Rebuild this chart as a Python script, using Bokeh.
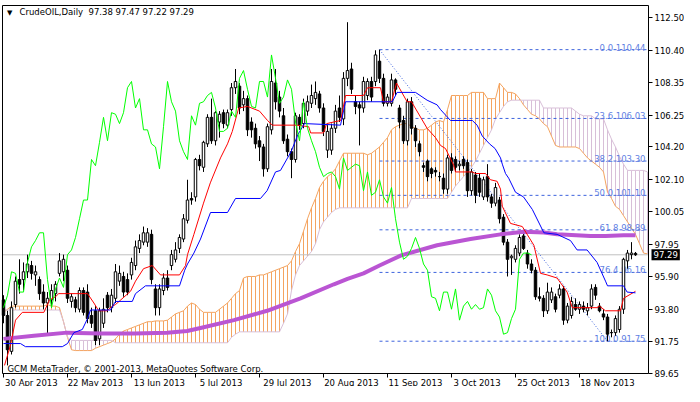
from bokeh.plotting import figure
from bokeh.models import (Range1d, LinearAxis, FixedTicker, Label,
                          ColumnDataSource, CustomJSTickFormatter, PrintfTickFormatter)
from bokeh.embed import file_html
from bokeh.resources import INLINE
from bokeh.core.properties import value

# ---------------- data ----------------
symbol_title = "CrudeOIL,Daily"
last_ohlc_text = "97.38 97.47 97.22 97.29"
copyright_text = "GCM MetaTrader, \u00a9 2001-2013, MetaQuotes Software Corp."

opens = [94.4, 93.4, 91.1, 94.1, 95.7, 95.7, 96.2, 96.6, 96.0, 95.7,
         94.9, 94.2, 94.4, 94.8, 96.1, 96.2, 96.3, 94.3, 94.4, 93.8,
         95.0, 94.9, 93.4, 93.7, 91.9, 92.9, 94.7, 93.9, 94.5, 95.6,
         95.9, 95.7, 96.0, 96.6, 97.7, 98.1, 98.1, 98.6, 95.1, 93.9,
         95.0, 95.8, 96.6, 97.0, 97.7, 98.3, 99.5, 100.9, 101.0, 103.4,
         102.9, 104.4, 106.1, 104.6, 105.8, 106.4, 105.6, 106.6, 108.0, 108.1,
         106.9, 107.3, 105.8, 105.4, 104.6, 104.2, 102.8, 105.3, 108.3, 107.4,
         106.2, 104.7, 103.9, 103.4, 106.1, 105.7, 106.5, 107.0, 107.3, 107.6,
         106.7, 104.0, 104.0, 105.4, 106.7, 106.0, 108.6, 109.2, 107.1, 106.9,
         106.7, 107.5, 108.4, 108.4, 109.7, 108.6, 107.0, 107.0, 108.5, 106.7,
         105.9, 104.6, 107.1, 105.4, 104.4, 103.0, 103.3, 102.8, 102.7, 102.3,
         102.2, 101.5, 103.5, 103.4, 103.0, 103.4, 103.2, 101.4, 102.4, 102.2,
         101.0, 102.3, 101.0, 100.6, 100.8, 99.7, 98.1, 97.1, 97.0, 97.4,
         98.5, 97.4, 96.7, 96.3, 94.6, 94.5, 93.7, 94.4, 94.6, 94.7,
         95.1, 93.1, 93.4, 94.1, 93.8, 94.0, 93.7, 94.0, 95.2, 94.0,
         93.5, 93.3, 92.3, 92.3, 92.5, 93.8, 96.9, 97.3, 97.38]
highs = [94.7, 93.7, 94.3, 95.9, 97.0, 96.8, 97.3, 96.9, 96.6, 95.9,
         95.4, 94.9, 95.4, 95.6, 97.4, 97.3, 96.6, 94.8, 94.6, 95.2,
         95.2, 95.4, 93.9, 94.0, 93.9, 94.5, 94.9, 95.1, 96.7, 96.6,
         96.2, 96.1, 97.1, 98.2, 98.6, 99.1, 99.0, 98.9, 95.4, 95.4,
         96.1, 96.3, 97.6, 98.1, 98.6, 99.9, 102.1, 101.3, 103.5, 103.7,
         104.6, 106.3, 107.3, 106.5, 106.5, 106.6, 106.6, 108.3, 109.2, 108.3,
         107.8, 107.5, 106.1, 105.7, 104.9, 104.4, 105.7, 109.2, 109.2, 107.8,
         106.7, 105.0, 104.1, 106.4, 106.3, 107.3, 107.5, 108.2, 108.4, 107.8,
         107.0, 105.6, 105.7, 106.9, 107.5, 109.0, 112.2, 109.6, 107.5, 107.1,
         108.7, 108.6, 108.7, 110.4, 110.44, 108.9, 107.6, 108.9, 108.6, 106.9,
         106.2, 107.3, 107.4, 105.6, 104.6, 103.2, 103.4, 102.9, 102.9, 102.6,
         102.5, 103.7, 103.8, 103.6, 103.3, 103.6, 103.4, 102.8, 102.6, 102.5,
         102.3, 103.1, 101.2, 101.9, 101.0, 99.9, 98.3, 97.3, 97.9, 98.6,
         98.8, 97.6, 97.0, 96.5, 95.2, 94.7, 95.5, 95.2, 94.8, 95.4,
         95.3, 94.2, 94.6, 94.5, 94.3, 94.3, 94.2, 95.4, 95.4, 94.2,
         93.8, 93.5, 92.5, 93.4, 94.0, 97.1, 97.6, 98.1, 97.47]
lows = [92.9, 90.2, 90.9, 93.9, 94.8, 95.0, 95.8, 95.7, 95.3, 94.4,
        93.8, 92.1, 93.9, 94.3, 95.9, 95.6, 94.2, 93.9, 93.6, 93.6,
        93.4, 92.9, 92.6, 91.5, 91.5, 92.6, 93.6, 93.6, 94.2, 95.3,
        94.6, 94.7, 95.7, 96.3, 97.4, 97.9, 97.8, 95.4, 93.4, 93.4,
        94.7, 95.0, 96.3, 96.8, 97.4, 98.1, 99.3, 100.5, 100.7, 102.7,
        102.6, 104.2, 104.4, 104.3, 104.8, 105.4, 105.4, 106.2, 107.6, 106.3,
        106.5, 104.9, 104.8, 104.1, 103.3, 102.3, 102.6, 105.0, 106.6, 106.1,
        104.4, 103.6, 102.2, 103.2, 105.3, 105.4, 106.2, 106.7, 106.9, 106.4,
        104.9, 103.5, 103.7, 105.1, 105.8, 105.6, 108.1, 107.6, 106.3, 104.3,
        106.4, 107.2, 107.1, 108.1, 108.3, 106.8, 106.8, 106.8, 107.5, 105.4,
        104.4, 104.3, 105.0, 104.2, 103.6, 102.6, 102.0, 102.2, 102.3, 102.0,
        101.2, 101.2, 102.5, 102.6, 102.7, 102.8, 101.0, 101.1, 100.6, 101.0,
        100.8, 100.7, 100.3, 100.4, 99.3, 97.9, 95.9, 96.0, 96.8, 97.2,
        97.6, 96.4, 96.1, 94.4, 94.3, 93.3, 93.5, 94.2, 93.6, 94.5,
        92.8, 92.9, 93.2, 93.7, 93.5, 93.6, 93.4, 93.8, 94.4, 93.6,
        93.1, 91.75, 92.0, 92.1, 92.3, 93.5, 96.4, 97.0, 97.22]
closes = [93.4, 91.2, 93.9, 95.6, 95.4, 96.2, 96.7, 96.1, 96.2, 94.8,
          94.2, 94.5, 95.0, 95.4, 96.9, 97.0, 94.5, 94.6, 93.9, 95.0,
          93.6, 93.2, 92.9, 91.8, 93.7, 93.8, 93.9, 94.7, 96.2, 96.1,
          94.9, 94.9, 96.8, 97.8, 98.2, 98.7, 98.7, 95.7, 93.9, 95.1,
          95.8, 95.2, 97.3, 97.6, 98.4, 99.6, 100.8, 100.8, 103.4, 103.0,
          104.5, 106.1, 104.6, 106.4, 106.3, 105.7, 106.4, 108.0, 108.4, 106.7,
          107.3, 105.3, 105.3, 104.4, 104.2, 102.8, 105.5, 108.4, 107.1, 106.5,
          104.6, 103.9, 103.4, 106.2, 105.6, 107.0, 107.1, 107.5, 107.7, 106.7,
          105.2, 105.2, 105.4, 106.5, 106.1, 108.6, 109.1, 107.9, 106.8, 106.7,
          108.4, 108.4, 107.4, 110.1, 108.6, 107.0, 107.4, 108.5, 107.9, 105.8,
          104.6, 107.1, 105.4, 104.6, 103.9, 102.9, 102.3, 102.5, 102.6, 102.3,
          101.5, 103.5, 102.7, 102.9, 103.1, 103.0, 101.4, 102.6, 101.1, 101.3,
          102.1, 101.0, 100.6, 101.6, 99.6, 98.1, 97.0, 97.2, 97.7, 98.4,
          97.7, 96.7, 96.3, 94.6, 94.5, 93.7, 94.9, 94.9, 93.8, 95.1,
          93.1, 94.0, 94.3, 93.8, 94.1, 93.8, 93.9, 95.1, 94.7, 93.7,
          93.3, 92.2, 92.3, 93.2, 93.8, 97.0, 97.4, 97.4, 97.29]

# Ichimoku senkou spans, one value per bar (they run 26 bars ahead of price)
span_a = [93.6, 93.8, 94.0, 94.0, 94.0, 94.0, 94.0, 94.0, 94.0, 94.0,
          94.0, 94.1, 94.0, 94.0, 93.9, 93.0, 92.0, 91.2, 91.15, 91.15,
          91.15, 91.15, 91.15, 91.3, 91.4, 91.5, 91.6, 91.7, 91.9, 92.2,
          92.4, 92.5, 92.6, 92.7, 92.8, 92.9, 93.0, 93.0, 93.05, 93.05,
          93.05, 93.1, 93.3, 93.5, 93.6, 93.7, 94.0, 94.2, 94.1, 93.8,
          93.6, 93.6, 93.6, 93.6, 93.8, 94.0, 94.2, 94.5, 94.8, 95.0,
          95.8, 95.9, 95.9, 95.9, 96.0, 96.0, 96.1, 96.2, 96.3, 96.4,
          96.5, 96.6, 96.9, 97.5, 98.0, 98.8, 99.6, 100.3, 100.9, 101.6,
          102.0, 102.3, 102.5, 102.8, 103.3, 103.8, 103.8, 103.8, 103.8, 103.8,
          103.8, 103.7, 103.8, 104.0, 104.2, 104.5, 104.8, 105.3, 105.5, 105.6,
          105.7, 105.7, 105.5, 105.4, 105.3, 105.3, 105.4, 105.6, 105.8, 105.9,
          105.8, 106.6, 107.5, 107.5, 107.5, 107.5, 107.5, 107.7, 107.7, 107.7,
          107.7, 107.3, 107.3, 107.3, 108.3, 108.0, 107.7, 107.7, 107.6, 107.3,
          106.9, 106.6, 106.3, 106.2, 106.0, 105.7, 105.5, 104.9, 104.3, 104.2,
          104.2, 104.2, 104.2, 104.2, 104.1, 103.8, 103.5, 103.3, 103.1, 102.9,
          102.6, 101.3, 100.9, 100.4, 100.2, 99.8, 99.4, 99.0, 98.6, 98.0,
          97.4, 97.35, 97.35, 97.35, 97.35]
span_b = [93.75, 93.75, 93.75, 93.75, 93.75, 93.75, 93.75, 93.75, 93.75, 93.75,
          93.75, 93.75, 93.75, 93.75, 93.75, 93.0, 92.0, 91.8, 91.8, 91.8,
          91.8, 91.8, 91.8, 91.8, 91.8, 91.8, 91.8, 91.8, 91.65, 91.65,
          91.65, 91.65, 91.65, 91.65, 91.65, 91.65, 91.65, 91.65, 91.65, 91.65,
          91.65, 91.65, 91.65, 91.65, 91.65, 91.65, 91.65, 91.65, 91.65, 91.65,
          91.65, 91.65, 91.65, 91.65, 91.65, 91.65, 91.65, 92.0, 92.2, 92.35,
          92.35, 92.35, 92.35, 92.35, 92.35, 92.35, 92.35, 92.35, 92.35, 92.35,
          92.9, 93.5, 95.0, 96.0, 96.6, 96.9, 97.2, 97.5, 98.0, 98.9,
          99.4, 99.7, 100.0, 100.2, 100.3, 100.3, 100.3, 100.3, 100.3, 100.3,
          100.3, 100.3, 100.3, 100.3, 100.3, 100.3, 100.3, 100.3, 100.3, 100.3,
          100.3, 100.3, 100.9, 100.9, 100.9, 100.9, 100.9, 100.9, 100.9, 100.9,
          100.9, 100.9, 101.3, 101.7, 102.0, 102.3, 102.6, 102.9, 103.3, 103.8,
          104.3, 104.8, 105.3, 106.0, 106.4, 106.8, 107.1, 107.2, 107.2, 107.2,
          107.2, 107.2, 107.2, 107.2, 107.2, 106.7, 106.7, 106.7, 106.7, 106.7,
          106.7, 106.7, 106.7, 106.5, 106.3, 106.2, 106.2, 106.2, 106.0, 106.0,
          106.0, 105.3, 104.7, 104.2, 103.6, 103.1, 102.7, 102.7, 102.7, 102.7,
          102.7, 102.6, 102.6, 102.3, 102.1]

# Tenkan-sen (red) and Kijun-sen (blue) vertices: (bar, price)
tenkan_bar = [0.25, 1.75, 3, 4.7, 10.1, 11.5, 13, 13.8, 21, 22.6, 23.8, 25.9, 27.2, 28,
              31.75, 33, 35, 37.2, 39.25, 44, 45.5, 46, 47.6, 50, 51.7, 54.25, 56, 57.2,
              58.8, 61, 64, 66, 67.2, 73.4, 76.3, 76.8, 80, 80.8, 84.3, 85.5, 90, 91,
              94.25, 95, 97, 98.25, 100.9, 102, 105.9, 108, 109.25, 110.5, 112.6, 113,
              117.2, 118, 120.5, 121.75, 123.4, 124.25, 124.7, 126.75, 129.7, 132.6,
              134.25, 135.9, 138.4, 140.9, 142.2, 148.4, 149, 150.5, 154.25, 155, 158]
tenkan_val = [90.2, 91.5, 93.1, 93.6, 93.6, 94.4, 94.6, 94.8, 94.8, 94.2, 93.7, 93.7, 94.0, 94.1,
              94.95, 95.6, 96.4, 96.6, 96.0, 96.0, 96.6, 97.3, 98.6, 100.6, 101.9, 103.5, 104.4, 105.2,
              106.7, 106.8, 106.5, 105.9, 105.6, 105.6, 105.5, 105.1, 105.1, 105.7, 105.9, 107.5, 107.5, 108.0,
              108.0, 107.1, 107.1, 108.3, 107.1, 107.1, 105.4, 104.8, 104.3, 104.1, 103.0, 102.6,
              102.6, 102.5, 102.5, 102.1, 102.0, 101.5, 100.4, 99.3, 99.1, 97.9,
              96.1, 96.0, 95.8, 94.9, 93.9, 93.9, 94.0, 93.7, 93.7, 94.5, 94.95]
kijun_bar = [0, 4.25, 5.5, 14.7, 16, 17.6, 19.7, 21, 21.75, 26.75, 28, 32.2, 33, 35.5, 44,
             45.3, 46, 47.6, 49.25, 51.75, 56, 58, 64.25, 65.9, 68, 69.25, 71.9, 73.6, 75.25,
             84.25, 85.5, 97.2, 98.4, 103, 105.9, 108.4, 109.25, 111.75, 117.2, 118.4, 119.7,
             121.5, 122.9, 124.25, 124.7, 125.5, 126.3, 128, 130, 132.2, 135.1, 138.4, 141.75,
             143.4, 145.9, 148.4, 150.5, 151, 155, 155.9, 158]
kijun_val = [91.6, 91.6, 91.4, 91.4, 91.6, 92.3, 92.5, 93.2, 93.75, 93.75, 94.3, 94.3, 94.8, 95.3, 95.3,
             96.3, 96.7, 97.4, 98.3, 100.0, 100.0, 100.9, 100.9, 101.4, 102.6, 102.7, 103.9, 105.0, 105.7,
             105.6, 107.1, 107.1, 107.7, 107.7, 107.2, 106.9, 106.6, 105.9, 105.9, 105.6, 104.9,
             104.4, 104.1, 103.5, 103.1, 102.5, 102.2, 101.3, 101.0, 100.2, 98.7, 98.6, 98.2,
             97.6, 97.6, 96.8, 95.6, 95.3, 95.3, 94.9, 94.85]

# 200-period moving average (purple) vertices
sma_bar = [0, 7.6, 15.9, 24.25, 32.6, 40.9, 45.9, 49.25, 57.6, 65.9, 74.25, 82.6, 86, 90, 94,
           99.4, 108.4, 116.75, 124.25, 130, 135.1, 138.4, 146.75, 150.5, 155, 158]
sma_val = [91.9, 92.1, 92.3, 92.25, 92.25, 92.3, 92.4, 92.6, 93.1, 93.7, 94.5, 95.4, 95.75, 96.1, 96.6,
           97.25, 97.9, 98.3, 98.6, 98.76, 98.72, 98.6, 98.5, 98.5, 98.55, 98.55]

chikou_shift = 26

# Fibonacci retracement
fib_levels = [0.0, 23.6, 38.2, 50.0, 61.8, 76.4, 100.0]
fib_prices = [110.44, 106.03, 103.30, 101.10, 98.89, 96.16, 91.75]
fib_high_bar = 94
fib_low_bar = 151

# axes
price_ticks = [112.50, 110.40, 108.35, 106.25, 104.20, 102.10, 100.05, 97.95, 95.90, 93.80, 91.75, 89.65]
date_bars = [0, 16, 32, 48, 64, 80, 96, 112, 128, 144]
date_labels = ["30 Apr 2013", "22 May 2013", "13 Jun 2013", "5 Jul 2013", "29 Jul 2013",
               "20 Aug 2013", "11 Sep 2013", "3 Oct 2013", "25 Oct 2013", "18 Nov 2013"]

# ---------------- layout geometry (pixels -> data) ----------------
W, H = 684, 386
PX_BAR = 4.0                   # horizontal pixels per bar
XL = -0.75                     # canvas left edge, in bars
XR = XL + W / PX_BAR
X_LEFT = XL + 2 / PX_BAR       # chart left border
X_EDGE = XL + 648 / PX_BAR     # price-axis line
PX_PRICE = 15.6                # vertical pixels per price unit
Y_TOP = 113.27                 # chart top border price (5 px below canvas top)
YT = Y_TOP + 5 / PX_PRICE
YB = YT - H / PX_PRICE
Y_BOTTOM = YT - 373 / PX_PRICE # chart bottom border

FONT = "DejaVu Sans"
FS = "8.5px"

p = figure(width=W, height=H, output_backend="svg", toolbar_location=None,
           x_range=Range1d(XL, XR), y_range=Range1d(YB, YT),
           x_axis_type=None, y_axis_type=None,
           min_border_left=0, min_border_top=0, min_border_right=0, min_border_bottom=0)
p.grid.visible = False
p.outline_line_color = None
p.background_fill_color = "white"
p.border_fill_color = "white"


def style_axis(ax):
    ax.axis_line_color = "black"
    ax.axis_line_width = 1
    ax.major_label_text_font = FONT
    ax.major_label_text_font_size = FS
    ax.major_label_text_color = "black"
    ax.minor_tick_line_color = None
    ax.major_tick_in = 0


# right price axis, drawn at the chart's right edge
yax = LinearAxis(ticker=FixedTicker(ticks=price_ticks, minor_ticks=[]),
                 formatter=PrintfTickFormatter(format="%.2f"),
                 fixed_location=X_EDGE, bounds=(Y_BOTTOM, Y_TOP))
style_axis(yax)
yax.major_tick_out = 4
yax.major_label_standoff = 2
yax.major_tick_line_color = "black"
p.add_layout(yax, "right")

# bottom date axis: tick marks at the bars, labels to the right of each tick
label_pos = [b + (len(t) * 4.8 / 2 + 1.5) / PX_BAR for b, t in zip(date_bars, date_labels)]
xfmt = CustomJSTickFormatter(args=dict(pos=label_pos, labs=date_labels), code="""
let best = 0, bd = 1e9;
for (let i = 0; i < pos.length; i++) { const d = Math.abs(pos[i] - tick); if (d < bd) { bd = d; best = i; } }
return labs[best];
""")
xax = LinearAxis(ticker=FixedTicker(ticks=label_pos, minor_ticks=date_bars), formatter=xfmt,
                 fixed_location=Y_BOTTOM, bounds=(X_LEFT, X_EDGE))
style_axis(xax)
xax.major_tick_line_color = None
xax.major_tick_out = 3
xax.minor_tick_out = 4
xax.minor_tick_in = 0
xax.minor_tick_line_color = "black"
xax.major_label_standoff = 0
p.add_layout(xax, "below")

# left and top chart borders
for side, loc, bnds in (("left", X_LEFT, (Y_BOTTOM, Y_TOP)), ("above", Y_TOP, (X_LEFT, X_EDGE))):
    bax = LinearAxis(ticker=FixedTicker(ticks=[], minor_ticks=[]), fixed_location=loc, bounds=bnds)
    style_axis(bax)
    bax.major_tick_line_color = None
    bax.major_label_text_font_size = "0px"
    p.add_layout(bax, side)

# cloud hatching (one vertical stroke per bar), clipped at the price axis
cloud_bars = [i for i in range(len(span_a)) if i <= X_EDGE]
ca = [span_a[i] for i in cloud_bars]
cb = [span_b[i] for i in cloud_bars]
hatch_colors = ["#F4A460" if a >= b else "#D8BFD8" for a, b in zip(ca, cb)]
p.segment(x0=cloud_bars, y0=ca, x1=cloud_bars, y1=cb, line_color=hatch_colors, line_width=1)
p.line(cloud_bars, ca, line_color="#F4A460", line_width=1)
p.line(cloud_bars, cb, line_color="#D8BFD8", line_width=1)

# bid line
p.segment(x0=[X_LEFT], y0=[closes[-1]], x1=[X_EDGE], y1=[closes[-1]], line_color="#C0C0C0", line_width=1)

# fibonacci
nf = len(fib_prices)
p.segment(x0=[fib_high_bar] * nf, y0=fib_prices, x1=[X_EDGE] * nf, y1=fib_prices,
          line_color="#3D63DD", line_width=1, line_dash="3 3")
p.line([fib_high_bar, fib_low_bar], [fib_prices[0], fib_prices[-1]],
       line_color="#3D63DD", line_width=1, line_dash="1 2")
p.text(x=[X_EDGE] * nf, y=fib_prices,
       text=[f"{l:.1f} {v:.2f}" for l, v in zip(fib_levels, fib_prices)],
       text_align="right", text_baseline="alphabetic", x_offset=-3, y_offset=-2,
       text_color="#5F7FE3", text_font=value(FONT), text_font_size=value(FS))

# candles
idx = list(range(len(closes)))
src = ColumnDataSource(dict(
    x=idx, o=opens, h=highs, l=lows, c=closes,
    top=[max(o, c) for o, c in zip(opens, closes)],
    bot=[min(o, c) for o, c in zip(opens, closes)],
    fill=["white" if c >= o else "black" for o, c in zip(opens, closes)]))
p.segment(x0="x", y0="l", x1="x", y1="h", source=src, line_color="black", line_width=1)
p.vbar(x="x", width=0.62, top="top", bottom="bot", source=src,
       fill_color="fill", line_color="black", line_width=1)

# moving average, ichimoku lines
p.line(sma_bar, sma_val, line_color="#BA55D3", line_width=4)
p.line(tenkan_bar, tenkan_val, line_color="#FF0000", line_width=1)
p.line(kijun_bar, kijun_val, line_color="#0000FF", line_width=1)
chikou_x = idx[:len(closes) - chikou_shift]
chikou_y = closes[chikou_shift:]
p.line(chikou_x, chikou_y, line_color="#00FF00", line_width=1)

# texts
p.add_layout(Label(x=X_LEFT, y=Y_TOP, x_offset=4.5, y_offset=-3, text="\u25BC",
                   text_font="DejaVu Sans", text_font_size="7px", text_color="black",
                   text_baseline="top"))
p.add_layout(Label(x=X_LEFT, y=Y_TOP, x_offset=17, y_offset=-1,
                   text=symbol_title + "\u00a0\u00a0" + last_ohlc_text,
                   text_font=FONT, text_font_size=FS, text_color="black", text_baseline="top"))
p.add_layout(Label(x=X_LEFT, y=Y_BOTTOM, x_offset=5, y_offset=5, text=copyright_text,
                   text_font=FONT, text_font_size=FS, text_color="black", text_baseline="alphabetic"))
p.add_layout(Label(x=X_EDGE, y=closes[-1], x_offset=3, y_offset=0, text=f"{closes[-1]:.2f}",
                   text_font=FONT, text_font_size=FS, text_color="white", text_baseline="middle",
                   background_fill_color="black", padding=2))

open("out.html", "w").write(file_html(p, INLINE))
